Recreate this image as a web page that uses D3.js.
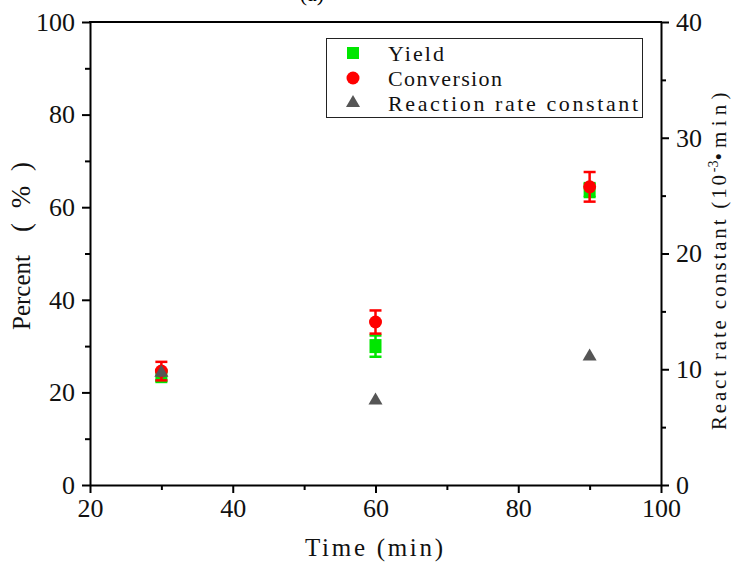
<!DOCTYPE html>
<html><head><meta charset="utf-8">
<script src="https://cdn.jsdelivr.net/npm/d3@7"></script>
<style>body{margin:0;background:#fff}svg{display:block}</style>
</head><body>
<svg id="chart" width="732" height="562"></svg>
<script>
const times = [30, 60, 90];
const yieldVals = [23.5, 30.0, 63.7];
const yieldErr = [1.0, 2.3, 1.5];
const conversionVals = [24.6, 35.2, 64.4];
const conversionErr = [2.0, 2.5, 3.2];
const rateVals = [9.7, 7.3, 11.1];
const xTicks = [20, 40, 60, 80, 100];
const leftTicks = [0, 20, 40, 60, 80, 100];
const rightTicks = [0, 10, 20, 30, 40];
const legendLabels = ["Yield", "Conversion", "Reaction rate constant"];

const svg = d3.select("#chart");
const L = 90, R = 661, T = 22, B = 485;
const x = d3.scaleLinear().domain([20, 100]).range([L, R]);
const yL = d3.scaleLinear().domain([0, 100]).range([B, T]);
const yR = d3.scaleLinear().domain([0, 40]).range([B, T]);
const numFont = "'Liberation Serif', 'DejaVu Serif', serif";
const lblFont = "'Liberation Serif', 'DejaVu Serif', serif";

// title remnant (cut off at top, as in the reference)
svg.append("text").attr("x", 312).attr("y", 1).attr("text-anchor", "middle")
  .attr("font-family", numFont).attr("font-size", 22).text("(a)");

function styleAxis(g) {
  g.select(".domain").attr("stroke", "#000").attr("stroke-width", 2);
  g.selectAll(".tick line").attr("stroke", "#000").attr("stroke-width", 2);
  g.selectAll(".tick text").attr("font-family", numFont).attr("font-size", 26).attr("fill", "#111");
}
const minorX = d3.range(30, 100, 20);
const minorL = d3.range(10, 100, 20);
const minorR = d3.range(5, 40, 10);
function minor(g) { g.select(".domain").remove(); g.selectAll("line").attr("stroke", "#000").attr("stroke-width", 2); }

svg.append("g").attr("transform", `translate(0,${B})`)
  .call(d3.axisBottom(x).tickValues(minorX).tickSize(5).tickFormat("")).call(minor);
svg.append("g").attr("transform", `translate(${L},0)`)
  .call(d3.axisLeft(yL).tickValues(minorL).tickSize(5).tickFormat("")).call(minor);
svg.append("g").attr("transform", `translate(${R},0)`)
  .call(d3.axisRight(yR).tickValues(minorR).tickSize(5).tickFormat("")).call(minor);

svg.append("g").attr("transform", `translate(0,${B})`)
  .call(d3.axisBottom(x).tickValues(xTicks).tickSize(8).tickSizeOuter(0).tickPadding(6))
  .call(styleAxis);
svg.append("g").attr("transform", `translate(${L},0)`)
  .call(d3.axisLeft(yL).tickValues(leftTicks).tickSize(8).tickSizeOuter(0).tickPadding(7))
  .call(styleAxis);
svg.append("g").attr("transform", `translate(${R},0)`)
  .call(d3.axisRight(yR).tickValues(rightTicks).tickSize(8).tickSizeOuter(0).tickPadding(7))
  .call(styleAxis);
svg.append("line").attr("x1", L - 1).attr("x2", R + 1).attr("y1", T).attr("y2", T)
  .attr("stroke", "#000").attr("stroke-width", 2);

// axis titles
svg.append("text").attr("x", 374).attr("y", 556).attr("text-anchor", "middle")
  .attr("font-family", lblFont).attr("font-size", 25).attr("fill", "#111")
  .attr("textLength", 138).attr("lengthAdjust", "spacing").text("Time (min)");
const pl = svg.append("text").attr("transform", `translate(30,330) rotate(-90)`).attr("text-anchor", "start")
  .attr("font-family", lblFont).attr("font-size", 25).attr("fill", "#111");
pl.append("tspan").text("Percent");
pl.append("tspan").attr("x", 98).attr("font-size", 27).attr("textLength", 70).attr("lengthAdjust", "spacing").text("(%)");
const rl = svg.append("text").attr("transform", `translate(726,430) rotate(-90)`).attr("text-anchor", "start")
  .attr("font-family", lblFont).attr("font-size", 21).attr("fill", "#111");
rl.append("tspan").attr("textLength", 255).attr("lengthAdjust", "spacing").text("React rate constant (10");
rl.append("tspan").attr("dy", -8).attr("font-size", 14).text("-3");
rl.append("tspan").attr("dy", 8).attr("textLength", 68).attr("lengthAdjust", "spacing").text("•min)");

const green = "#00e600", red = "#ff0000", gray = "#555555";
const plot = svg.append("g");

function errBars(vals, errs, color) {
  const g = plot.append("g").attr("stroke", color).attr("stroke-width", 2.5);
  times.forEach((t, i) => {
    const cx = x(t);
    g.append("line").attr("x1", cx).attr("x2", cx).attr("y1", yL(vals[i] - errs[i])).attr("y2", yL(vals[i] + errs[i]));
    [vals[i] - errs[i], vals[i] + errs[i]].forEach(v =>
      g.append("line").attr("x1", cx - 6).attr("x2", cx + 6).attr("y1", yL(v)).attr("y2", yL(v)));
  });
}
errBars(yieldVals, yieldErr, green);
plot.selectAll(".sq").data(times).join("rect")
  .attr("x", d => x(d) - 6).attr("y", (d, i) => yL(yieldVals[i]) - 7)
  .attr("width", 12).attr("height", 14).attr("fill", green);
errBars(conversionVals, conversionErr, red);
plot.selectAll(".ci").data(times).join("circle")
  .attr("cx", d => x(d)).attr("cy", (d, i) => yL(conversionVals[i])).attr("r", 6.5).attr("fill", red);
const tri = d3.symbol().type(d3.symbolTriangle).size(85);
plot.selectAll(".tr").data(times).join("path")
  .attr("d", tri).attr("transform", (d, i) => `translate(${x(d)},${yR(rateVals[i])})`).attr("fill", gray);

// legend
const lg = svg.append("g");
lg.append("rect").attr("x", 326.5).attr("y", 38.5).attr("width", 316).attr("height", 79)
  .attr("fill", "#fff").attr("stroke", "#222").attr("stroke-width", 1);
const rowsY = [53, 78, 103];
const textLens = [56, 114, 250];
lg.append("rect").attr("x", 347).attr("y", rowsY[0] - 6).attr("width", 12).attr("height", 12).attr("fill", green);
lg.append("circle").attr("cx", 353).attr("cy", rowsY[1]).attr("r", 6.5).attr("fill", red);
lg.append("path").attr("d", tri).attr("transform", `translate(353,${rowsY[2]})`).attr("fill", gray);
legendLabels.forEach((t, i) => lg.append("text").attr("x", 388).attr("y", rowsY[i] + 8)
  .attr("font-family", lblFont).attr("font-size", 22).attr("fill", "#111")
  .attr("textLength", textLens[i]).attr("lengthAdjust", "spacing").text(t));
</script>
</body></html>
